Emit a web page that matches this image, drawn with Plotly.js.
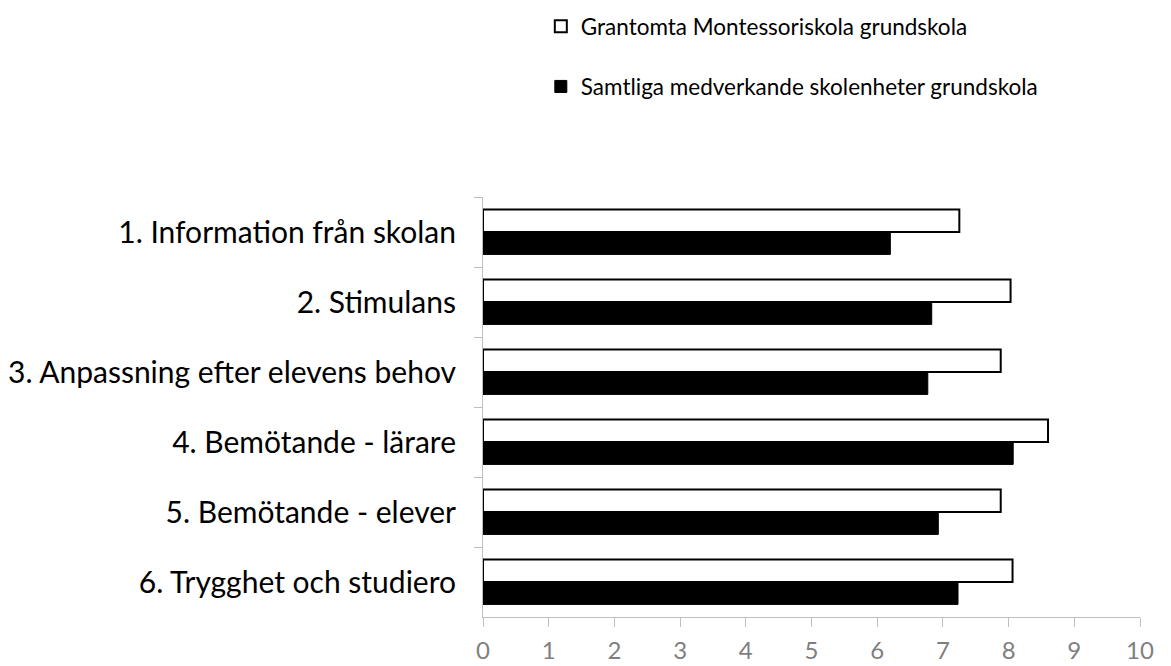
<!DOCTYPE html>
<html lang="sv">
<head>
    <meta charset="UTF-8">
    <title>Grantomta Montessoriskola</title>
    <script src="https://cdn.plot.ly/plotly-3.0.1.min.js"></script>
    <style>
        body { margin: 0; background: #fff; }
        #chart { width: 1171px; height: 666px; }
    </style>
</head>
<body>
    <div id="chart"></div>
    <script>
        const categories = [
            "1. Information från skolan",
            "2. Stimulans",
            "3. Anpassning efter elevens behov",
            "4. Bemötande - lärare",
            "5. Bemötande - elever",
            "6. Trygghet och studiero"
        ];
        const schoolName = "Grantomta Montessoriskola grundskola";
        const allName = "Samtliga medverkande skolenheter grundskola";
        const schoolValues = [7.25, 8.03, 7.88, 8.6, 7.88, 8.06];
        const allValues = [6.2, 6.83, 6.77, 8.07, 6.93, 7.23];
        const xTicks = [0, 1, 2, 3, 4, 5, 6, 7, 8, 9, 10];

        const font = "Lato, 'Open Sans', sans-serif";

        const traces = [
            {
                type: "bar",
                orientation: "h",
                name: schoolName,
                y: categories,
                x: schoolValues,
                legendgroup: "a",
                marker: { color: "#ffffff", line: { color: "#000000", width: 2 } },
                hoverinfo: "x"
            },
            {
                type: "bar",
                orientation: "h",
                name: allName,
                y: categories,
                x: allValues,
                legendgroup: "b",
                marker: { color: "#000000", line: { color: "#000000", width: 1 } },
                hoverinfo: "x"
            }
        ];

        const layout = {
            width: 1171,
            height: 666,
            margin: { l: 483, r: 31, t: 197, b: 49, autoexpand: false },
            paper_bgcolor: "#ffffff",
            plot_bgcolor: "#ffffff",
            font: { family: font, color: "#000000" },
            barmode: "group",
            bargap: 0.36,
            bargroupgap: 0,
            showlegend: true,
            legend: {
                x: 0.088,
                xanchor: "left",
                y: 1.457,
                yanchor: "top",
                traceorder: "grouped",
                tracegroupgap: 28,
                font: { family: font, size: 22.5, color: "#000000" },
                itemwidth: 30
            },
            xaxis: {
                range: [0, 10],
                tickvals: xTicks,
                ticktext: xTicks.map(String),
                showgrid: false,
                zeroline: false,
                showline: true,
                linecolor: "#bfbfbf",
                linewidth: 1,
                ticks: "outside",
                ticklen: 9,
                tickcolor: "#bfbfbf",
                ticklabelstandoff: 3,
                tickfont: { family: font, size: 24, color: "#7f7f7f" },
                fixedrange: true
            },
            yaxis: {
                autorange: "reversed",
                type: "category",
                showgrid: false,
                zeroline: false,
                showline: true,
                linecolor: "#bfbfbf",
                linewidth: 1,
                ticks: "outside",
                tickson: "boundaries",
                ticklen: 8,
                tickcolor: "#bfbfbf",
                ticklabelstandoff: 20,
                tickfont: { family: font, size: 30, color: "#000000" },
                fixedrange: true
            }
        };

        Plotly.newPlot("chart", traces, layout, { displayModeBar: false, staticPlot: true });
    </script>
</body>
</html>
